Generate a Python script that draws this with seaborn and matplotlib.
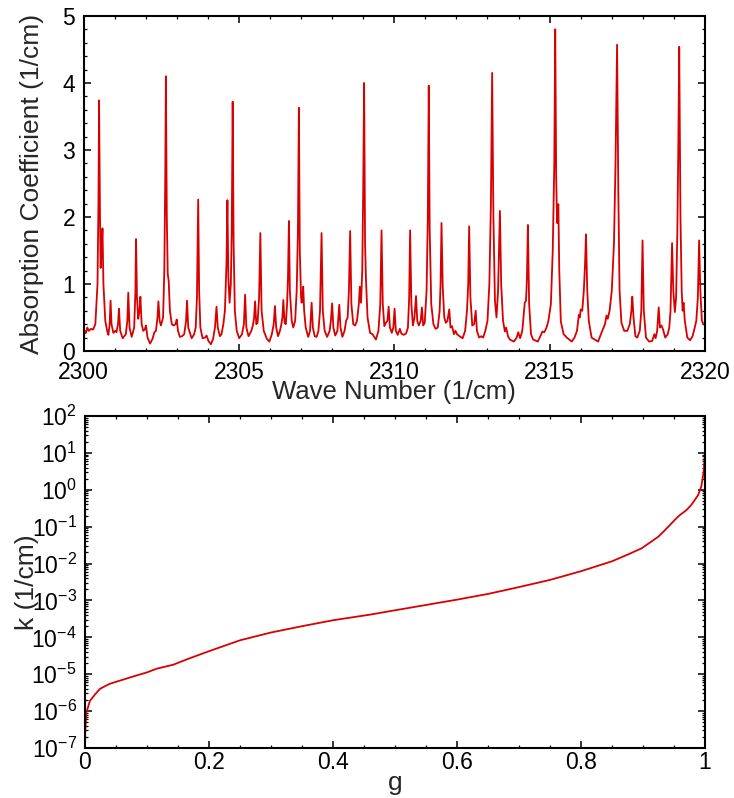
import numpy as np
import matplotlib
matplotlib.use('Agg')
import matplotlib.pyplot as plt
import matplotlib.ticker as mticker
import seaborn as sns

# ---------------------------------------------------------------------------
# Data
# ---------------------------------------------------------------------------

# top panel: absorption spectrum
wave_number = [
    2300.00, 2300.04, 2300.08, 2300.12, 2300.17, 2300.24, 2300.31, 2300.38,
    2300.45, 2300.48, 2300.50, 2300.53, 2300.55, 2300.58, 2300.61, 2300.64,
    2300.70, 2300.76, 2300.80, 2300.84, 2300.87, 2300.90, 2300.96, 2301.02,
    2301.06, 2301.11, 2301.14, 2301.18, 2301.26, 2301.36, 2301.41, 2301.44,
    2301.48, 2301.55, 2301.63, 2301.67, 2301.69, 2301.72, 2301.76, 2301.80,
    2301.83, 2301.87, 2301.92, 2301.97, 2302.01, 2302.06, 2302.14, 2302.22,
    2302.28, 2302.33, 2302.38, 2302.41, 2302.45, 2302.49, 2302.56, 2302.60,
    2302.63, 2302.65, 2302.68, 2302.71, 2302.74, 2302.78, 2302.84, 2302.90,
    2302.96, 2303.00, 2303.04, 2303.10, 2303.17, 2303.24, 2303.30, 2303.33,
    2303.37, 2303.48, 2303.56, 2303.61, 2303.65, 2303.69, 2303.72, 2303.76,
    2303.83, 2303.91, 2303.96, 2304.02, 2304.10, 2304.17, 2304.23, 2304.28,
    2304.32, 2304.39, 2304.44, 2304.50, 2304.55, 2304.60, 2304.63, 2304.66,
    2304.70, 2304.74, 2304.77, 2304.80, 2304.83, 2304.87, 2304.93, 2305.01,
    2305.10, 2305.16, 2305.20, 2305.24, 2305.31, 2305.40, 2305.45, 2305.49,
    2305.52, 2305.56, 2305.60, 2305.65, 2305.69, 2305.73, 2305.80, 2305.90,
    2305.98, 2306.06, 2306.12, 2306.16, 2306.20, 2306.26, 2306.32, 2306.36,
    2306.40, 2306.43, 2306.47, 2306.51, 2306.55, 2306.58, 2306.61, 2306.64,
    2306.70, 2306.75, 2306.81, 2306.86, 2306.90, 2306.93, 2306.96, 2307.00,
    2307.02, 2307.05, 2307.07, 2307.10, 2307.15, 2307.23, 2307.29, 2307.34,
    2307.38, 2307.44, 2307.50, 2307.56, 2307.61, 2307.66, 2307.70, 2307.76,
    2307.84, 2307.92, 2307.96, 2308.00, 2308.04, 2308.10, 2308.17, 2308.23,
    2308.27, 2308.33, 2308.40, 2308.45, 2308.50, 2308.54, 2308.58, 2308.62,
    2308.68, 2308.74, 2308.80, 2308.86, 2308.89, 2308.93, 2308.97, 2309.00,
    2309.03, 2309.06, 2309.09, 2309.14, 2309.22, 2309.30, 2309.41, 2309.49,
    2309.55, 2309.59, 2309.63, 2309.68, 2309.73, 2309.78, 2309.82, 2309.86,
    2309.92, 2309.97, 2310.01, 2310.05, 2310.11, 2310.18, 2310.23, 2310.30,
    2310.38, 2310.44, 2310.48, 2310.51, 2310.55, 2310.60, 2310.65, 2310.70,
    2310.74, 2310.79, 2310.85, 2310.89, 2310.93, 2310.98, 2311.04, 2311.08,
    2311.11, 2311.14, 2311.19, 2311.26, 2311.33, 2311.40, 2311.46, 2311.49,
    2311.52, 2311.56, 2311.61, 2311.66, 2311.71, 2311.77, 2311.81, 2311.86,
    2311.92, 2311.97, 2312.02, 2312.10, 2312.20, 2312.28, 2312.34, 2312.38,
    2312.41, 2312.45, 2312.51, 2312.57, 2312.62, 2312.66, 2312.73, 2312.80,
    2312.86, 2312.93, 2313.00, 2313.06, 2313.11, 2313.15, 2313.19, 2313.24,
    2313.29, 2313.34, 2313.37, 2313.40, 2313.44, 2313.50, 2313.56, 2313.60,
    2313.66, 2313.72, 2313.85, 2313.94, 2313.99, 2314.05, 2314.12, 2314.20,
    2314.24, 2314.27, 2314.30, 2314.34, 2314.40, 2314.47, 2314.62, 2314.70,
    2314.77, 2314.83, 2314.90, 2314.96, 2315.04, 2315.10, 2315.15, 2315.18,
    2315.21, 2315.24, 2315.26, 2315.28, 2315.31, 2315.36, 2315.45, 2315.55,
    2315.71, 2315.80, 2315.88, 2315.94, 2315.97, 2316.00, 2316.05, 2316.10,
    2316.14, 2316.17, 2316.21, 2316.26, 2316.35, 2316.45, 2316.56, 2316.65,
    2316.72, 2316.78, 2316.83, 2316.87, 2316.93, 2317.00, 2317.07, 2317.12,
    2317.17, 2317.21, 2317.25, 2317.31, 2317.40, 2317.50, 2317.58, 2317.63,
    2317.66, 2317.70, 2317.76, 2317.82, 2317.90, 2317.95, 2317.99, 2318.03,
    2318.10, 2318.20, 2318.30, 2318.37, 2318.41, 2318.46, 2318.51, 2318.55,
    2318.60, 2318.65, 2318.72, 2318.80, 2318.85, 2318.89, 2318.94, 2318.98,
    2319.03, 2319.07, 2319.11, 2319.14, 2319.17, 2319.21, 2319.25, 2319.28,
    2319.31, 2319.35, 2319.43, 2319.52, 2319.60, 2319.67, 2319.72, 2319.77,
    2319.81, 2319.85, 2319.90, 2319.95, 2320.00,
]
absorption = [
    0.15, 0.30, 0.27, 0.35, 0.30, 0.33, 0.32, 0.40,
    1.00, 2.20, 3.74, 2.00, 1.24, 1.50, 1.83, 1.00,
    0.45, 0.30, 0.24, 0.40, 0.75, 0.40, 0.27, 0.30,
    0.28, 0.40, 0.63, 0.30, 0.19, 0.25, 0.45, 0.87,
    0.35, 0.21, 0.35, 0.90, 1.67, 0.80, 0.48, 0.60,
    0.81, 0.40, 0.30, 0.32, 0.38, 0.20, 0.11, 0.18,
    0.28, 0.30, 0.50, 0.74, 0.45, 0.38, 0.50, 1.20,
    2.60, 4.10, 2.00, 1.15, 1.05, 0.60, 0.40, 0.38,
    0.40, 0.47, 0.30, 0.21, 0.22, 0.25, 0.45, 0.75,
    0.35, 0.19, 0.25, 0.35, 0.80, 2.26, 0.90, 0.35,
    0.19, 0.20, 0.23, 0.15, 0.10, 0.18, 0.35, 0.66,
    0.35, 0.22, 0.25, 0.40, 0.60, 1.30, 2.25, 1.10,
    0.72, 1.00, 1.80, 3.72, 1.60, 0.60, 0.30, 0.19,
    0.25, 0.40, 0.84, 0.35, 0.22, 0.30, 0.38, 0.50,
    0.74, 0.40, 0.42, 0.80, 1.76, 0.60, 0.30, 0.18,
    0.14, 0.25, 0.40, 0.67, 0.35, 0.22, 0.30, 0.38,
    0.50, 0.76, 0.42, 0.40, 0.70, 1.10, 1.94, 0.90,
    0.45, 0.35, 0.45, 0.90, 1.80, 3.63, 1.50, 0.80,
    0.72, 0.85, 0.96, 0.60, 0.35, 0.21, 0.30, 0.72,
    0.35, 0.22, 0.21, 0.30, 0.60, 1.76, 0.60, 0.30,
    0.21, 0.30, 0.45, 0.71, 0.35, 0.23, 0.30, 0.69,
    0.35, 0.21, 0.30, 0.45, 0.50, 0.90, 1.79, 0.70,
    0.40, 0.38, 0.45, 0.70, 0.96, 0.72, 1.20, 2.40,
    4.00, 1.60, 1.06, 0.50, 0.27, 0.25, 0.17, 0.30,
    0.70, 1.80, 0.70, 0.37, 0.42, 0.45, 0.66, 0.35,
    0.27, 0.35, 0.63, 0.30, 0.24, 0.33, 0.26, 0.24,
    0.26, 0.35, 0.80, 1.80, 0.70, 0.38, 0.50, 0.82,
    0.45, 0.38, 0.45, 0.65, 0.38, 0.42, 0.90, 2.00,
    3.96, 1.80, 0.70, 0.40, 0.33, 0.35, 0.60, 1.00,
    1.91, 0.95, 0.50, 0.42, 0.45, 0.62, 0.35, 0.37,
    0.25, 0.30, 0.25, 0.22, 0.19, 0.30, 0.60, 1.00,
    1.86, 0.80, 0.38, 0.40, 0.60, 0.30, 0.20, 0.22,
    0.20, 0.30, 0.45, 1.00, 2.20, 4.15, 2.00, 0.75,
    0.50, 0.90, 1.50, 2.09, 1.00, 0.45, 0.29, 0.35,
    0.22, 0.17, 0.14, 0.20, 0.28, 0.19, 0.30, 0.72,
    0.75, 1.10, 1.88, 0.70, 0.25, 0.17, 0.14, 0.22,
    0.29, 0.28, 0.35, 0.45, 0.70, 1.50, 2.80, 4.80,
    2.60, 1.91, 2.10, 2.19, 1.20, 0.44, 0.25, 0.20,
    0.14, 0.20, 0.30, 0.54, 0.50, 0.62, 0.60, 0.90,
    1.30, 1.74, 0.90, 0.45, 0.20, 0.17, 0.14, 0.25,
    0.33, 0.40, 0.53, 0.48, 0.60, 0.90, 1.60, 2.80,
    4.57, 2.40, 0.90, 0.42, 0.30, 0.30, 0.40, 0.60,
    0.81, 0.50, 0.22, 0.20, 0.30, 0.60, 1.65, 0.60,
    0.20, 0.14, 0.15, 0.25, 0.19, 0.30, 0.65, 0.35,
    0.38, 0.32, 0.20, 0.25, 0.35, 0.60, 1.61, 0.90,
    0.58, 0.80, 1.80, 3.00, 4.54, 2.00, 0.90, 0.60,
    0.72, 0.45, 0.20, 0.16, 0.22, 0.35, 0.45, 0.80,
    1.65, 0.90, 0.45, 0.40, 0.39,
]

# bottom panel: k-distribution, k against cumulative g
g_values = [0.0, 0.0005, 0.002, 0.008, 0.016, 0.024, 0.04, 0.078, 0.10,
            0.115, 0.142, 0.17, 0.2, 0.25, 0.30, 0.35, 0.40, 0.459, 0.5,
            0.6, 0.65, 0.7, 0.75, 0.8, 0.85, 0.877, 0.898, 0.914, 0.925,
            0.935, 0.946, 0.954, 0.96, 0.97, 0.978, 0.989, 0.994, 0.998, 1.0]
k_values = [1e-7, 3.2e-7, 8.9e-7, 1.9e-6, 2.8e-6, 4.0e-6, 5.5e-6, 8.7e-6,
            1.12e-5, 1.4e-5, 1.8e-5, 2.75e-5, 4.2e-5, 8.3e-5, 1.35e-4,
            2.0e-4, 2.9e-4, 4.1e-4, 5.4e-4, 1.05e-3, 1.5e-3, 2.3e-3, 3.6e-3,
            6.2e-3, 1.15e-2, 1.8e-2, 2.6e-2, 4.0e-2, 5.4e-2, 7.9e-2, 0.123,
            0.17, 0.21, 0.28, 0.39, 0.72, 1.23, 3.2, 10.0]

LINE_COLOR = '#d80000'

sns.set_style('ticks')
plt.rcParams['font.family'] = ['Liberation Sans', 'DejaVu Sans']
plt.rcParams['mathtext.default'] = 'regular'
plt.rcParams['axes.unicode_minus'] = False


def style_axis(ax):
    for sp in ax.spines.values():
        sp.set_linewidth(1.5)
        sp.set_color('black')
    ax.tick_params(which='both', direction='in', top=True, right=True,
                   colors='black', labelsize=16.5, pad=6)
    ax.tick_params(which='major', length=5, width=1.1)
    ax.tick_params(which='minor', length=2.5, width=0.9)


def g_label(v, _):
    v = round(v, 3)
    if v == 0:
        return '0'
    if v == 1:
        return '1'
    return f'{v:.1f}'


fig = plt.figure(figsize=(7.34, 7.98), dpi=100)
ax_top = fig.add_axes([0.1138, 0.5602, 0.8467, 0.4198])
ax_bot = fig.add_axes([0.1158, 0.0627, 0.8447, 0.4160])

# ── top: spectrum ──────────────────────────────────────────────────────────
sns.lineplot(x=wave_number, y=absorption, ax=ax_top, color=LINE_COLOR,
             linewidth=1.3, estimator=None)
ax_top.set_xlim(2300, 2320)
ax_top.set_ylim(0, 5)
ax_top.xaxis.set_major_locator(mticker.MultipleLocator(5))
ax_top.xaxis.set_minor_locator(mticker.MultipleLocator(1))
ax_top.yaxis.set_major_locator(mticker.MultipleLocator(1))
ax_top.yaxis.set_minor_locator(mticker.MultipleLocator(0.2))
style_axis(ax_top)
ax_top.tick_params(axis='x', which='both', pad=7)
ax_top.set_xlabel('Wave Number (1/cm)', fontsize=18.5, labelpad=-3)
ax_top.set_ylabel('Absorption Coefficient (1/cm)', fontsize=19, labelpad=13)

# ── bottom: k vs g ─────────────────────────────────────────────────────────
sns.lineplot(x=g_values, y=k_values, ax=ax_bot, color=LINE_COLOR,
             linewidth=1.3, estimator=None)
ax_bot.set_yscale('log')
ax_bot.set_xlim(0, 1)
ax_bot.set_ylim(1e-7, 1e2)
ax_bot.xaxis.set_major_locator(mticker.MultipleLocator(0.2))
ax_bot.xaxis.set_minor_locator(mticker.MultipleLocator(0.05))
ax_bot.xaxis.set_major_formatter(mticker.FuncFormatter(g_label))
ax_bot.yaxis.set_major_locator(mticker.LogLocator(base=10, numticks=20))
ax_bot.yaxis.set_minor_locator(mticker.LogLocator(base=10, subs=np.arange(2, 10),
                                                  numticks=20))
ax_bot.yaxis.set_minor_formatter(mticker.NullFormatter())
style_axis(ax_bot)
ax_bot.tick_params(axis='x', which='both', pad=2)
ax_bot.set_xlabel('g', fontsize=19, labelpad=-2)
ax_bot.set_ylabel('k (1/cm)', fontsize=19, labelpad=-6)

fig.savefig('out.png', dpi=100)
plt.close(fig)
